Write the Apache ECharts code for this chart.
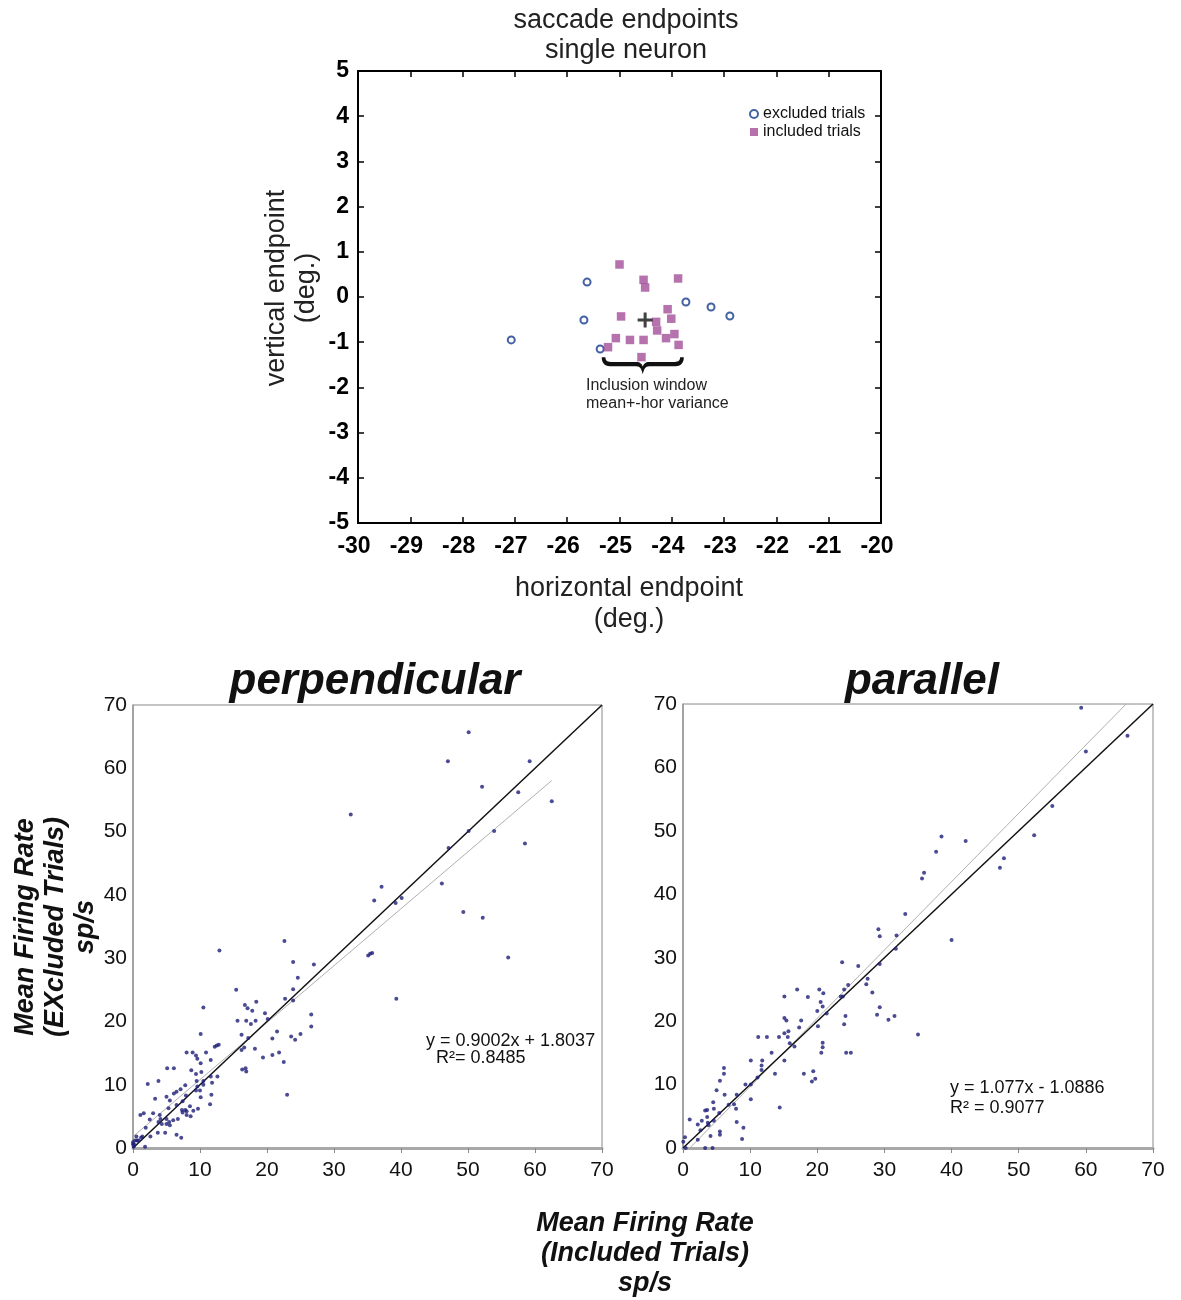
<!DOCTYPE html>
<html>
<head>
<meta charset="utf-8">
<title>Saccade endpoints and mean firing rates</title>
<script src="https://cdn.jsdelivr.net/npm/echarts@6/dist/echarts.min.js"></script>
<style>
  html, body { margin: 0; padding: 0; background: #fff; }
  #chart { width: 1181px; height: 1300px; }
</style>
</head>
<body>
<div id="chart"></div>
<script>
// ---- Saccade endpoints of a single neuron (deg.) : [horizontal, vertical] ----
const excludedTrials = [
  [-27.07, -0.95], [-25.62, 0.33], [-25.68, -0.51], [-25.37, -1.15],
  [-23.73, -0.11], [-23.25, -0.22], [-22.89, -0.42]
];
const includedTrials = [
  [-25.00, 0.72], [-24.54, 0.38], [-24.51, 0.21], [-23.88, 0.41],
  [-24.97, -0.43], [-24.08, -0.27], [-24.01, -0.48], [-24.30, -0.55],
  [-24.28, -0.74], [-23.95, -0.82], [-24.11, -0.91], [-23.87, -1.06],
  [-25.07, -0.91], [-24.80, -0.95], [-24.54, -0.95], [-25.22, -1.11],
  [-24.58, -1.33]
];
const windowMean = [[-24.51, -0.51]];
// inclusion window brace: [left edge, right edge, vertical position]
const inclusionWindow = [[-25.34, -23.77, -1.52]];
const endpointXRange = [-30, -20];
const endpointYRange = [-5, 5];

// ---- Mean firing rate (sp/s) : [included trials, excluded trials] ----
const perpendicularRates = [
  [50.1, 65.7], [47.0, 61.1], [59.2, 61.1], [52.1, 57.1], [57.5, 56.2], [62.5, 54.8],
  [32.5, 52.7], [50.1, 50.1], [53.9, 50.1], [58.5, 48.1], [47.1, 47.4], [46.1, 41.8],
  [37.1, 41.3], [36.0, 39.1], [39.2, 38.7], [40.1, 39.5], [49.3, 37.3], [52.2, 36.4],
  [22.6, 32.7], [23.9, 29.4], [27.0, 29.0], [24.6, 26.9], [23.9, 25.1], [35.1, 30.4],
  [35.4, 30.7], [35.7, 30.8], [56.0, 30.1], [39.3, 23.6], [22.7, 23.6], [23.0, 8.4],
  [16.7, 22.6], [17.1, 22.1], [18.4, 23.1], [17.8, 21.7], [19.7, 21.3], [15.6, 20.1],
  [16.9, 20.1], [17.6, 19.6], [18.3, 20.1], [20.1, 20.4], [16.2, 17.9], [17.2, 17.4],
  [21.5, 18.4], [20.8, 17.3], [23.6, 17.6], [24.2, 17.1], [25.0, 18.0], [26.6, 21.1],
  [26.6, 19.2], [16.2, 15.5], [16.6, 15.9], [18.2, 15.7], [19.4, 14.3], [20.8, 14.7],
  [21.8, 15.1], [22.5, 13.6], [16.3, 12.4], [16.8, 12.6], [16.9, 12.1], [23.9, 23.3],
  [12.9, 31.2], [15.4, 25.0], [10.5, 22.2], [10.1, 18.0], [8.0, 15.1], [8.9, 15.1],
  [9.4, 14.6], [9.6, 14.1], [10.9, 15.1], [10.1, 13.4], [11.6, 13.9], [12.2, 16.0],
  [12.5, 16.2], [12.8, 16.3], [5.1, 12.6], [6.1, 12.6], [3.8, 10.6], [2.2, 10.1],
  [3.3, 7.8], [8.7, 12.3], [9.4, 11.7], [10.2, 12.0], [10.5, 10.6], [10.5, 10.0],
  [9.5, 10.6], [9.6, 9.7], [9.4, 9.1], [10.0, 9.1], [11.6, 11.3], [11.8, 10.3],
  [12.6, 11.3], [11.7, 8.4], [11.5, 6.9], [10.1, 8.0], [7.8, 9.9], [7.1, 9.3],
  [7.9, 8.3], [6.5, 8.9], [6.1, 8.6], [5.0, 8.1], [5.5, 7.5], [6.5, 6.8],
  [5.3, 6.3], [7.4, 7.4], [7.3, 6.0], [7.8, 6.0], [8.0, 5.8], [7.4, 5.6],
  [8.0, 5.2], [8.5, 6.6], [9.0, 5.9], [9.7, 6.2], [8.6, 5.0], [1.1, 5.2],
  [1.6, 5.5], [3.0, 5.5], [4.0, 5.2], [2.5, 4.5], [4.1, 4.6], [3.8, 4.1],
  [4.3, 3.8], [5.0, 4.6], [5.4, 4.1], [6.0, 4.4], [5.0, 3.8], [5.5, 3.6],
  [6.7, 4.6], [4.8, 2.4], [3.7, 2.4], [1.9, 3.2], [1.4, 1.8], [1.2, 1.6],
  [2.6, 1.8], [6.5, 2.1], [7.2, 1.6], [0.3, 1.2], [0.6, 1.2], [0.8, 1.2],
  [0.0, 0.6], [0.2, 0.5], [0.1, 0.2], [1.8, 0.2], [0.5, 1.8], [0.0, 0.9]
];
const parallelRates = [
  [59.3, 69.4], [66.2, 65.0], [60.0, 62.5], [55.0, 53.9], [52.3, 49.3], [38.5, 49.1],
  [42.1, 48.4], [37.7, 46.7], [47.8, 45.7], [47.2, 44.2], [35.9, 43.4], [35.6, 42.5],
  [33.1, 36.9], [29.1, 34.5], [29.3, 33.4], [31.8, 33.5], [40.0, 32.8], [31.7, 31.4],
  [29.3, 29.0], [26.1, 28.7], [27.5, 26.7], [27.3, 25.8], [28.2, 24.5], [29.3, 22.2],
  [28.9, 21.0], [31.5, 20.8], [30.6, 20.2], [35.0, 17.9],
  [23.7, 29.3], [17.0, 25.0], [15.1, 23.9], [20.3, 25.0], [20.9, 24.4], [18.6, 23.8],
  [24.6, 25.7], [24.0, 25.0], [23.5, 23.9], [23.8, 23.9], [20.5, 23.0], [20.8, 22.3],
  [20.0, 21.6], [21.4, 21.2], [15.1, 20.5], [15.4, 20.1], [17.6, 20.1], [20.1, 19.2],
  [17.3, 19.0], [24.2, 20.8], [24.0, 19.5], [15.7, 18.4], [15.1, 18.1], [11.2, 17.5],
  [12.5, 17.5], [14.3, 17.5], [15.6, 17.5], [15.9, 16.5], [16.6, 16.0], [15.1, 13.8],
  [13.2, 15.0], [20.8, 16.6], [20.8, 15.9], [20.6, 15.0], [24.3, 15.0], [25.0, 15.0],
  [11.8, 13.8], [10.1, 13.8], [11.7, 12.3], [11.7, 13.0], [13.7, 11.7], [11.1, 11.1],
  [18.0, 11.7], [19.4, 12.1], [19.7, 10.9], [19.2, 10.5], [6.1, 12.6], [6.1, 11.7],
  [5.5, 10.6], [9.3, 10.0], [10.1, 10.0], [5.0, 9.1], [6.2, 8.4], [8.0, 8.4],
  [10.1, 7.7], [4.5, 7.2], [6.8, 6.8], [7.6, 6.9], [4.6, 6.2], [5.4, 5.5],
  [7.9, 6.2], [14.4, 6.4], [3.3, 5.9], [3.6, 6.0], [1.0, 4.5], [2.2, 3.7],
  [2.8, 4.3], [3.6, 4.9], [3.7, 4.0], [3.8, 3.6], [2.6, 2.8], [4.6, 4.3],
  [4.1, 1.9], [5.5, 2.6], [5.5, 2.1], [8.0, 4.1], [9.0, 3.2], [8.8, 1.4],
  [2.2, 1.3], [0.3, 1.7], [0.05, 1.0], [3.3, 0.0], [4.4, 0.0], [0.4, 0.0]
];
// least-squares fits: [slope, intercept], drawn over the x range given
const perpendicularFit = [0.9002, 1.8037];
const perpendicularFitRange = [0, 62.5];
const perpendicularR2 = '0.8485';
const parallelFit = [1.077, -1.0886];
const parallelFitRange = [1.01, 66.0];
const parallelR2 = '0.9077';
const unityRange = [0, 70];
const rateRange = [0, 70];

const SANS = '"Liberation Sans", Arial, Helvetica, sans-serif';

function fitLine(coef, range) {
  return range.map(x => [x, coef[0] * x + coef[1]]);
}
function fitText(coef) {
  const sign = coef[1] < 0 ? '-' : '+';
  return 'y = ' + coef[0] + 'x ' + sign + ' ' + Math.abs(coef[1]);
}

// filled curly brace, opening upward, in a 100 x 20 box
const BRACE_PATH = 'M0,0 C0,6 3,10.5 10,10.5 L42,10.5 C47,10.5 48.5,14 50,20 C51.5,14 53,10.5 58,10.5 L90,10.5 ' +
  'C97,10.5 100,6 100,0 L95.5,0 C95.5,3.5 93.5,5.5 89,5.5 L58,5.5 C53,5.5 51,8 50,11 ' +
  'C49,8 47,5.5 42,5.5 L11,5.5 C6.5,5.5 4.5,3.5 4.5,0 Z';
const PLUS_PATH = 'path://M4,0H6V4H10V6H6V10H4V6H0V4H4Z';

// ---- axis builders ----
function endpointX(position, showLabels) {
  return {
    gridIndex: 0, type: 'value', position: position,
    min: endpointXRange[0], max: endpointXRange[1], interval: 1,
    axisLine: { onZero: false, lineStyle: { color: '#000', width: 2 } },
    axisTick: { inside: true, length: 6, lineStyle: { color: '#000', width: 1.5 } },
    axisLabel: { show: showLabels, fontFamily: SANS, fontWeight: 'bold', fontSize: 23,
                 color: '#000', margin: 12, padding: [0, 8, 0, 0] },
    splitLine: { show: false }
  };
}
function endpointY(position, showLabels) {
  return {
    gridIndex: 0, type: 'value', position: position,
    min: endpointYRange[0], max: endpointYRange[1], interval: 1,
    axisLine: { onZero: false, lineStyle: { color: '#000', width: 2 } },
    axisTick: { inside: true, length: 6, lineStyle: { color: '#000', width: 1.5 } },
    axisLabel: { show: showLabels, fontFamily: SANS, fontWeight: 'bold', fontSize: 23,
                 color: '#000', margin: 9 },
    splitLine: { show: false }
  };
}
function rateX(gridIndex) {
  return {
    gridIndex: gridIndex, type: 'value', min: rateRange[0], max: rateRange[1], interval: 10,
    axisLine: { onZero: false, lineStyle: { color: '#a8a8a8', width: 3 } },
    axisTick: { show: true, length: 5, lineStyle: { color: '#888', width: 1 } },
    axisLabel: { fontFamily: SANS, fontSize: 21, color: '#111', margin: 12 },
    splitLine: { show: false }
  };
}
function rateY(gridIndex, lift) {
  return {
    gridIndex: gridIndex, type: 'value', min: rateRange[0], max: rateRange[1], interval: 10,
    axisLine: { onZero: false, lineStyle: { color: '#999', width: 1.5 } },
    axisTick: { show: false },
    axisLabel: { fontFamily: SANS, fontSize: 21, color: '#111', margin: 6,
                 padding: [0, 0, lift, 0] },
    splitLine: { show: false }
  };
}
function rateSeries(axisIndex, rates, coef, range) {
  return [
    { type: 'line', xAxisIndex: axisIndex, yAxisIndex: axisIndex, data: fitLine(coef, range),
      symbol: 'none', silent: true, lineStyle: { color: '#b0b0b0', width: 1 }, z: 3 },
    { type: 'line', xAxisIndex: axisIndex, yAxisIndex: axisIndex,
      data: unityRange.map(v => [v, v]),
      symbol: 'none', silent: true, lineStyle: { color: '#111', width: 1.5 }, z: 4 },
    { type: 'scatter', xAxisIndex: axisIndex, yAxisIndex: axisIndex, data: rates,
      symbol: 'circle', symbolSize: 4, itemStyle: { color: '#1e1e78' }, z: 5 }
  ];
}

const chart = echarts.init(document.getElementById('chart'), null, { renderer: 'canvas' });

const option = {
  animation: false,
  backgroundColor: '#fff',
  grid: [
    { left: 358, top: 71, width: 523, height: 452 },
    { left: 133, top: 705, width: 469, height: 443, show: true, borderColor: '#888', borderWidth: 1 },
    { left: 683, top: 704, width: 470, height: 444, show: true, borderColor: '#888', borderWidth: 1 }
  ],
  xAxis: [endpointX('bottom', true), endpointX('top', false), rateX(1), rateX(2)],
  yAxis: [endpointY('left', true), endpointY('right', false), rateY(1, 0), rateY(2, 7)],
  legend: {
    data: ['excluded trials', 'included trials'],
    orient: 'vertical', left: 744, top: 101,
    itemWidth: 8, itemHeight: 8, itemGap: 2, selectedMode: false,
    textStyle: { fontFamily: SANS, fontSize: 16, color: '#111' }
  },
  series: [
    { name: 'excluded trials', type: 'scatter', xAxisIndex: 0, yAxisIndex: 0,
      data: excludedTrials, symbol: 'emptyCircle', symbolSize: 7,
      itemStyle: { color: '#143a8c', borderColor: '#143a8c', borderWidth: 2.4 }, z: 5 },
    { name: 'included trials', type: 'scatter', xAxisIndex: 0, yAxisIndex: 0,
      data: includedTrials, symbol: 'rect', symbolSize: 8.5,
      itemStyle: { color: '#a24f98' }, z: 5 },
    { type: 'scatter', xAxisIndex: 0, yAxisIndex: 0, data: windowMean,
      symbol: PLUS_PATH, symbolSize: 15, silent: true,
      itemStyle: { color: '#111' }, z: 6 },
    { type: 'custom', xAxisIndex: 0, yAxisIndex: 0, data: inclusionWindow,
      encode: { x: [0, 1], y: 2 }, silent: true, z: 6,
      renderItem: function (params, api) {
        const a = api.coord([api.value(0), api.value(2)]);
        const b = api.coord([api.value(1), api.value(2)]);
        const h = 17;
        return {
          type: 'path',
          shape: { pathData: BRACE_PATH, x: a[0], y: a[1] - h / 2, width: b[0] - a[0], height: h, layout: 'cover' },
          style: { fill: '#111' }
        };
      }
    }
  ]
    .concat(rateSeries(2, perpendicularRates, perpendicularFit, perpendicularFitRange))
    .concat(rateSeries(3, parallelRates, parallelFit, parallelFitRange)),
  graphic: [
    { type: 'text', x: 626, y: 36, silent: true,
      style: { text: 'saccade endpoints\nsingle neuron', textAlign: 'center', textVerticalAlign: 'middle',
               font: '27px ' + SANS, lineHeight: 30, fill: '#222' } },
    { type: 'text', x: 629, y: 604, silent: true,
      style: { text: 'horizontal endpoint\n(deg.)', textAlign: 'center', textVerticalAlign: 'middle',
               font: '27px ' + SANS, lineHeight: 31, fill: '#222' } },
    { type: 'text', x: 292, y: 288, rotation: Math.PI / 2, silent: true,
      style: { text: 'vertical endpoint\n(deg.)', textAlign: 'center', textVerticalAlign: 'middle',
               font: '27px ' + SANS, lineHeight: 30, fill: '#222' } },
    { type: 'text', x: 586, y: 395, silent: true,
      style: { text: 'Inclusion window\nmean+-hor variance', textAlign: 'left', textVerticalAlign: 'middle',
               font: '16px ' + SANS, lineHeight: 18, fill: '#222' } },
    { type: 'text', x: 375, y: 682, silent: true,
      style: { text: 'perpendicular', textAlign: 'center', textVerticalAlign: 'middle',
               font: 'italic bold 44px ' + SANS, fill: '#111' } },
    { type: 'text', x: 922, y: 682, silent: true,
      style: { text: 'parallel', textAlign: 'center', textVerticalAlign: 'middle',
               font: 'italic bold 44px ' + SANS, fill: '#111' } },
    { type: 'text', x: 56, y: 927, rotation: Math.PI / 2, silent: true,
      style: { text: 'Mean Firing Rate\n(EXcluded Trials)\nsp/s', textAlign: 'center', textVerticalAlign: 'middle',
               font: 'italic bold 27px ' + SANS, lineHeight: 30, fill: '#111' } },
    { type: 'text', x: 645, y: 1254, silent: true,
      style: { text: 'Mean Firing Rate\n(Included Trials)\nsp/s', textAlign: 'center', textVerticalAlign: 'middle',
               font: 'italic bold 27px ' + SANS, lineHeight: 30, fill: '#111' } },
    { type: 'text', x: 426, y: 1041, silent: true,
      style: { text: fitText(perpendicularFit), textAlign: 'left', textVerticalAlign: 'middle',
               font: '18px ' + SANS, fill: '#111' } },
    { type: 'text', x: 436, y: 1058, silent: true,
      style: { text: 'R\u00b2= ' + perpendicularR2, textAlign: 'left', textVerticalAlign: 'middle',
               font: '18px ' + SANS, fill: '#111' } },
    { type: 'text', x: 950, y: 1088, silent: true,
      style: { text: fitText(parallelFit), textAlign: 'left', textVerticalAlign: 'middle',
               font: '18px ' + SANS, fill: '#111' } },
    { type: 'text', x: 950, y: 1108, silent: true,
      style: { text: 'R\u00b2 = ' + parallelR2, textAlign: 'left', textVerticalAlign: 'middle',
               font: '18px ' + SANS, fill: '#111' } }
  ]
};

chart.setOption(option);
</script>
</body>
</html>
